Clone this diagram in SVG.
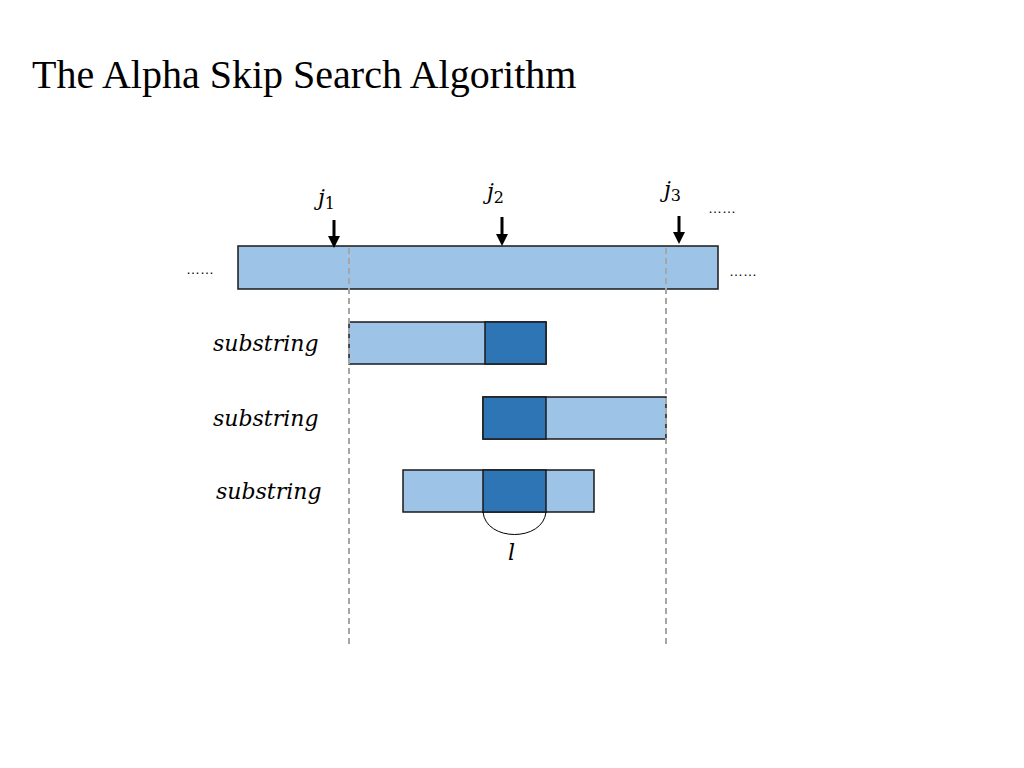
<svg xmlns="http://www.w3.org/2000/svg" width="1024" height="768" viewBox="0 0 1024 768">
<defs>
<style>
.l{fill:#9dc3e6;stroke:#1a1a1a;stroke-width:1.5}
.d{fill:#2e75b6;stroke:#1a1a1a;stroke-width:1.5}
.m{font-family:"DejaVu Serif","Liberation Serif",serif;font-style:italic;font-size:22px;fill:#000}
.s{font-family:"Liberation Sans",sans-serif;font-size:14px;fill:#000}
.dash{stroke:#a6a6a6;stroke-width:2;stroke-dasharray:6,4;fill:none}
.ar{stroke:#000;stroke-width:3;fill:none;marker-end:url(#a)}
</style>
<marker id="a" viewBox="0 0 10 10" refX="5" refY="5" markerWidth="4" markerHeight="4" orient="auto"><path d="M0,0L10,5L0,10z" fill="#000"/></marker>
</defs>
<rect width="1024" height="768" fill="#fff"/>
<text x="32" y="88" font-family="Liberation Serif,serif" font-size="40" fill="#000">The Alpha Skip Search Algorithm</text>
<g id="text-bar"><rect class="l" x="238" y="246" width="480" height="43"/></g>
<g id="sub1"><rect class="l" x="349" y="322" width="197" height="42"/><rect class="d" x="485" y="322" width="61" height="42"/></g>
<g id="sub2"><rect class="l" x="483" y="397" width="183" height="42"/><rect class="d" x="483" y="397" width="63" height="42"/></g>
<g id="sub3"><rect class="l" x="403" y="470" width="191" height="42"/><rect class="d" x="483" y="470" width="63" height="42"/></g>
<g id="connectors">
<line class="dash" x1="349" y1="248" x2="349" y2="646"/>
<line class="dash" x1="666" y1="248" x2="666" y2="646"/>
<line class="ar" x1="334" y1="220" x2="334" y2="242"/>
<line class="ar" x1="502" y1="217" x2="502" y2="240"/>
<line class="ar" x1="679" y1="216" x2="679" y2="238"/>
<path d="M483,512 C486,542 543,542 546,512" fill="none" stroke="#000" stroke-width="1"/>
</g>
<g id="labels">
<text class="m" x="318" y="205">j<tspan font-size="16" font-style="normal" dy="4">1</tspan></text>
<text class="m" x="487" y="199">j<tspan font-size="16" font-style="normal" dy="4">2</tspan></text>
<text class="m" x="664" y="197">j<tspan font-size="16" font-style="normal" dy="4">3</tspan></text>
<text class="s" x="708" y="213">……</text>
<text class="s" x="186" y="274">……</text>
<text class="s" x="729" y="276">……</text>
<text class="m" x="213" y="351" font-size="21">substring</text>
<text class="m" x="213" y="426" font-size="21">substring</text>
<text class="m" x="216" y="499" font-size="21">substring</text>
<text class="m" x="508" y="560">l</text>
</g>
</svg>
